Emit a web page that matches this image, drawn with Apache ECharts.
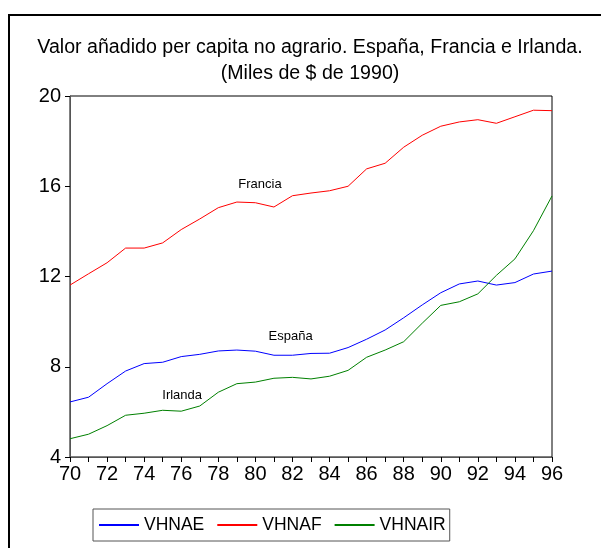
<!DOCTYPE html>
<html>
<head>
<meta charset="utf-8">
<script src="https://cdn.jsdelivr.net/npm/echarts@6/dist/echarts.min.js"></script>
<style>
  html, body { margin: 0; padding: 0; background: #fff; }
  #chart { width: 601px; height: 548px; }
</style>
</head>
<body>
<div id="chart"></div>
<script>
// años 1970-1996
var years = [70, 71, 72, 73, 74, 75, 76, 77, 78, 79, 80, 81, 82, 83,
    84, 85, 86, 87, 88, 89, 90, 91, 92, 93, 94, 95, 96];

// España
var vhnae = [6.44, 6.65, 7.25, 7.81, 8.14, 8.20, 8.45, 8.55, 8.70, 8.74, 8.69, 8.51, 8.51, 8.59,
    8.60, 8.85, 9.22, 9.63, 10.17, 10.74, 11.28, 11.67, 11.80, 11.62, 11.73, 12.11, 12.24];
// Francia
var vhnaf = [11.62, 12.12, 12.61, 13.26, 13.26, 13.49, 14.08, 14.55, 15.05, 15.30, 15.27, 15.08, 15.58, 15.70,
    15.80, 16.00, 16.77, 17.02, 17.73, 18.26, 18.66, 18.85, 18.95, 18.79, 19.08, 19.37, 19.35];
// Irlanda
var vhnair = [4.81, 5.01, 5.39, 5.85, 5.94, 6.07, 6.03, 6.26, 6.87, 7.25, 7.32, 7.49, 7.53, 7.46,
    7.58, 7.84, 8.42, 8.74, 9.11, 9.93, 10.72, 10.88, 11.23, 12.05, 12.78, 14.03, 15.57];

var seriesNames = ['VHNAE', 'VHNAF', 'VHNAIR'];
var seriesColors = ['#0000ff', '#ff0000', '#008000'];

// etiquetas dentro del gráfico
var noteText = ['España', 'Francia', 'Irlanda'];
var noteYear = [81.9, 80.25, 76.05];
var noteValue = [9.36, 16.06, 6.75];

var yTicks = [4, 8, 12, 16, 20];

(function () {
    var myChart = echarts.init(document.getElementById('chart'));
    var font = 'Liberation Sans, Arial, sans-serif';
    var allData = [vhnae, vhnaf, vhnair];

    var series = seriesNames.map(function (name, i) {
        return {
            name: name,
            type: 'line',
            data: years.map(function (y, j) { return [y, allData[i][j]]; }),
            showSymbol: false,
            symbol: 'none',
            lineStyle: { color: seriesColors[i], width: 1 },
            itemStyle: { color: seriesColors[i] },
            markPoint: {
                symbol: 'circle',
                symbolSize: 0,
                silent: true,
                label: {
                    show: true,
                    position: 'inside',
                    formatter: noteText[i],
                    color: '#000',
                    fontFamily: font,
                    fontSize: 13
                },
                data: [{ coord: [noteYear[i], noteValue[i]] }]
            }
        };
    });

    var option = {
        animation: false,
        backgroundColor: '#fff',
        title: {
            text: 'Valor añadido per capita no agrario. España, Francia e Irlanda.\n(Miles de $ de 1990)',
            left: 305,
            top: 30,
            textAlign: 'center',
            textStyle: {
                fontFamily: font,
                fontSize: 19.6,
                fontWeight: 'normal',
                color: '#000',
                lineHeight: 26
            }
        },
        graphic: [{
            type: 'rect',
            shape: { x: 9, y: 15, width: 800, height: 800 },
            style: { fill: 'none', stroke: '#000', lineWidth: 2 },
            silent: true
        }],
        legend: {
            data: seriesNames,
            left: 93,
            top: 509,
            icon: 'rect',
            itemWidth: 40,
            itemHeight: 2,
            itemGap: 13,
            padding: [7, 4, 7, 6],
            borderColor: '#555',
            borderWidth: 1,
            textStyle: { fontFamily: font, fontSize: 17.5, color: '#000' }
        },
        grid: {
            left: 70,
            right: 49,
            top: 96,
            bottom: 91,
            show: true,
            borderColor: '#000',
            borderWidth: 1
        },
        xAxis: {
            type: 'value',
            min: years[0],
            max: years[years.length - 1],
            interval: 1,
            axisLine: { show: true, lineStyle: { color: '#555', width: 1 } },
            axisTick: { show: true, length: 5, lineStyle: { color: '#000' } },
            axisLabel: {
                margin: 7,
                color: '#000',
                fontFamily: font,
                fontSize: 20,
                formatter: function (v) { return v % 2 === 0 ? String(v) : ''; }
            },
            splitLine: { show: false }
        },
        yAxis: {
            type: 'value',
            min: yTicks[0],
            max: yTicks[yTicks.length - 1],
            interval: 4,
            axisLine: { show: true, lineStyle: { color: '#555', width: 1 } },
            axisTick: { show: true, length: 5, lineStyle: { color: '#000' } },
            axisLabel: {
                margin: 9,
                color: '#000',
                fontFamily: font,
                fontSize: 20
            },
            splitLine: { show: false }
        },
        series: series
    };

    myChart.setOption(option);

    window.addEventListener('resize', function () {
        myChart.resize();
    });
})();
</script>
</body>
</html>
